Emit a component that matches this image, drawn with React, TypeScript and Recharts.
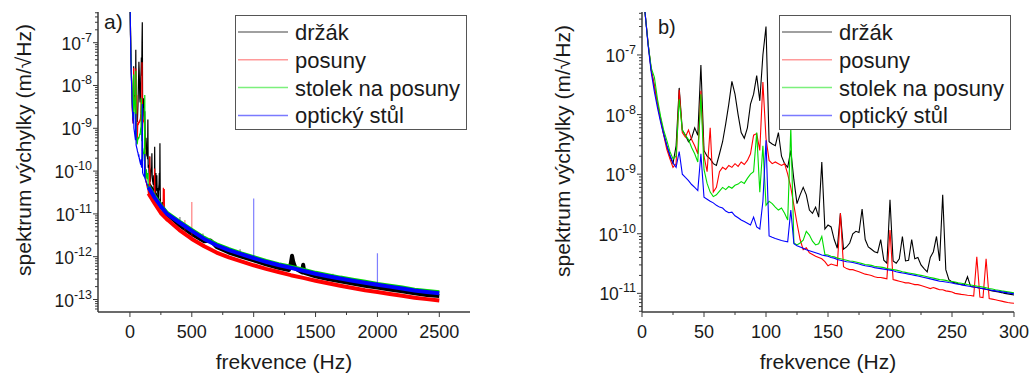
import { LineChart, Line, XAxis, YAxis } from 'recharts';

const FONT = '"Liberation Sans", Arial, sans-serif';
const AXIS = '#3a3a3a';
const TEXT = '#1a1a1a';

const names = ['držák', 'posuny', 'stolek na posuny', 'optický stůl'];
const colors = ['#000000', '#ff0000', '#00dc00', '#0000ff'];
const legendColors = ['#808080', '#ff9a9a', '#7cf07c', '#7a7aff'];

// panel b) 0–300 Hz, step 2.5 Hz (also the low end of panel a)
const fB = Array.from({ length: 121 }, (_, i) => i * 2.5);

const drzakB = [
  2e-6, 5e-7, 1.5e-7, 5.5e-8, 3e-8, 1.5e-8, 8.5e-9, 4.8e-9, 3e-9, 2e-9,
  1.5e-9, 3e-9, 2.8e-8, 5.5e-9, 4.5e-9, 3.5e-9, 4e-9, 6e-9, 4.5e-9, 6.8e-8,
  2.5e-9, 2e-9, 1.8e-9, 1.5e-9, 1.4e-9, 2.2e-9, 3.5e-9, 7e-9, 1.5e-8, 3.6e-8,
  2.2e-8, 1e-8, 5e-9, 4e-9, 6e-9, 1.5e-8, 2.2e-8, 4.5e-8, 1.7e-8, 1e-7,
  3e-7, 3.5e-9, 3.2e-9, 3e-9, 5e-9, 2e-9, 1.5e-9, 1.3e-9, 2.5e-9, 8e-10,
  3.2e-10, 4.5e-10, 6e-10, 4.5e-10, 2.5e-10, 2.2e-10, 2.8e-10, 1.9e-10, 1.6e-9, 1.2e-10,
  1.4e-10, 1.3e-10, 8e-11, 5.7e-11, 2.2e-10, 5.5e-11, 6e-11, 7e-11, 1e-10, 1.1e-10,
  1.05e-10, 2.6e-10, 8e-11, 6e-11, 5.5e-11, 5e-11, 4.8e-11, 8e-11, 3.6e-11, 3.2e-11,
  3.7e-10, 3.5e-11, 3.2e-11, 3.8e-11, 9e-11, 3.5e-11, 3.6e-11, 8e-11, 3.8e-11, 4e-11,
  3e-11, 2.6e-11, 2.3e-11, 4e-11, 5e-11, 9e-11, 3.5e-11, 4.5e-10, 2.5e-11, 1.7e-11,
  1.55e-11, 1.5e-11, 1.45e-11, 1.4e-11, 1.38e-11, 1.9e-11, 1.3e-11, 1.28e-11, 1.25e-11, 1.22e-11,
  1.2e-11, 1.17e-11, 1.13e-11, 1.1e-11, 1.08e-11, 1.05e-11, 1.03e-11, 1e-11, 9.8e-12, 9.6e-12,
  9.4e-12,
];
const posunyB = [
  2e-6, 5e-7, 1.5e-7, 5.5e-8, 3e-8, 1.5e-8, 8e-9, 4.5e-9, 2.6e-9, 1.8e-9,
  1.3e-9, 1.5e-9, 2.6e-8, 5e-9, 4.2e-9, 5.5e-9, 3.8e-9, 3e-9, 2.2e-9, 2.5e-8,
  2e-9, 1.1e-9, 6e-9, 5e-10, 6e-10, 1.1e-9, 1.3e-9, 1.2e-9, 1.4e-9, 1.3e-9,
  1.5e-9, 1.35e-9, 1.6e-9, 1.45e-9, 1.7e-9, 2.2e-9, 4.5e-9, 4.8e-9, 2.5e-9, 3.5e-8,
  4e-9, 1.7e-9, 1.5e-9, 1.6e-9, 1.5e-9, 1.4e-9, 1.5e-9, 1e-9, 6e-10, 3e-10,
  1.5e-10, 8e-11, 5.4e-11, 5.8e-11, 4.8e-11, 4.5e-11, 4.2e-11, 4e-11, 3.8e-11, 3.4e-11,
  2.9e-11, 3.1e-11, 3e-11, 2.9e-11, 2.2e-10, 2.8e-11, 2.6e-11, 2.5e-11, 2.5e-11, 2.4e-11,
  2.3e-11, 2.2e-11, 2.1e-11, 2.05e-11, 2e-11, 1.9e-11, 1.85e-11, 1.85e-11, 1.8e-11, 1.75e-11,
  1.15e-10, 1.7e-11, 1.65e-11, 1.6e-11, 1.55e-11, 1.5e-11, 1.5e-11, 1.45e-11, 1.4e-11, 1.4e-11,
  1.35e-11, 1.3e-11, 1.25e-11, 1.2e-11, 1.25e-11, 1.2e-11, 1.15e-11, 1.15e-11, 1.1e-11, 1.08e-11,
  1.05e-11, 1e-11, 9.8e-12, 9.6e-12, 9.5e-12, 9.3e-12, 9.2e-12, 9e-12, 4.1e-11, 8.7e-12,
  8.5e-12, 3.8e-11, 8.2e-12, 8e-12, 7.8e-12, 7.6e-12, 7.4e-12, 7.2e-12, 7e-12, 6.9e-12,
  6.8e-12,
];
const stolekB = [
  2e-6, 5e-7, 1.5e-7, 6e-8, 4.2e-8, 1.8e-8, 9.3e-9, 5.5e-9, 3.7e-9, 2.4e-9,
  1.8e-9, 2e-9, 1.8e-8, 5.5e-9, 4.5e-9, 3.8e-9, 2.8e-9, 2.2e-9, 1.6e-9, 2.2e-8,
  1.2e-9, 7e-10, 5e-10, 4.2e-10, 4.5e-10, 5.2e-10, 6e-10, 5.5e-10, 6.2e-10, 5.8e-10,
  6.5e-10, 6.8e-10, 7.5e-10, 7e-10, 8.5e-10, 1e-9, 1.1e-9, 5e-9, 5e-10, 3e-9,
  3e-10, 3.5e-10, 3.2e-10, 2.8e-10, 2.5e-10, 2.7e-10, 2.2e-10, 1.7e-10, 6e-9, 7e-11,
  6.5e-11, 7e-11, 7.8e-11, 1.1e-10, 9.5e-11, 7.5e-11, 6.5e-11, 6.8e-11, 9e-11, 4.5e-11,
  4.4e-11, 4.2e-11, 4.1e-11, 3.9e-11, 3.8e-11, 3.7e-11, 3.6e-11, 3.5e-11, 3.45e-11, 3.35e-11,
  3.25e-11, 3.15e-11, 3.05e-11, 3e-11, 2.95e-11, 2.85e-11, 2.8e-11, 2.75e-11, 2.7e-11, 2.6e-11,
  2.55e-11, 2.5e-11, 2.45e-11, 2.4e-11, 2.3e-11, 2.25e-11, 2.2e-11, 2.15e-11, 2.1e-11, 2.05e-11,
  2e-11, 1.95e-11, 1.9e-11, 1.85e-11, 1.8e-11, 1.75e-11, 1.7e-11, 1.68e-11, 1.65e-11, 1.6e-11,
  1.58e-11, 1.55e-11, 1.5e-11, 1.48e-11, 1.45e-11, 1.4e-11, 1.38e-11, 1.35e-11, 1.32e-11, 1.3e-11,
  1.27e-11, 1.24e-11, 1.2e-11, 1.18e-11, 1.15e-11, 1.13e-11, 1.1e-11, 1.08e-11, 1.06e-11, 1.04e-11,
  1.02e-11,
];
const optickyB = [
  2e-6, 5e-7, 1.4e-7, 5e-8, 2.4e-8, 1.3e-8, 7.5e-9, 4.6e-9, 3e-9, 2.1e-9,
  1.55e-9, 1.3e-9, 2.4e-9, 1e-9, 8.8e-10, 7.8e-10, 6.7e-10, 6e-10, 5.3e-10, 2.2e-9,
  4.1e-10, 3.8e-10, 3.5e-10, 3.3e-10, 3e-10, 2.8e-10, 2.7e-10, 2.4e-10, 2.25e-10, 2.3e-10,
  2e-10, 1.85e-10, 1.7e-10, 1.6e-10, 1.5e-10, 1.4e-10, 1.9e-10, 1.3e-10, 1.2e-10, 3.5e-10,
  3.7e-9, 9.2e-11, 8.7e-11, 8.3e-11, 8e-11, 7.7e-11, 7.5e-11, 7.3e-11, 2.5e-10, 6.8e-11,
  6.3e-11, 6e-11, 5.7e-11, 5.4e-11, 5.2e-11, 5e-11, 4.8e-11, 4.6e-11, 4.4e-11, 4.3e-11,
  4.2e-11, 4e-11, 3.9e-11, 3.7e-11, 3.6e-11, 3.5e-11, 3.4e-11, 3.35e-11, 3.3e-11, 3.2e-11,
  3.1e-11, 3e-11, 2.9e-11, 2.85e-11, 2.8e-11, 2.7e-11, 2.65e-11, 2.6e-11, 2.55e-11, 2.5e-11,
  2.45e-11, 2.4e-11, 2.3e-11, 2.25e-11, 2.2e-11, 2.15e-11, 2.1e-11, 2.05e-11, 2e-11, 1.95e-11,
  1.9e-11, 1.85e-11, 1.8e-11, 1.75e-11, 1.7e-11, 1.65e-11, 1.6e-11, 1.58e-11, 1.55e-11, 1.52e-11,
  1.5e-11, 1.45e-11, 1.42e-11, 1.4e-11, 1.36e-11, 1.33e-11, 1.3e-11, 1.28e-11, 1.25e-11, 1.23e-11,
  1.2e-11, 1.17e-11, 1.15e-11, 1.12e-11, 1.1e-11, 1.08e-11, 1.06e-11, 1.04e-11, 1.02e-11, 1e-11,
  9.8e-12,
];

// panel a) noise floor band, 150–2500 Hz
const fHighA = [150, 200, 250, 300, 400, 500, 600, 700, 800, 900, 1000, 1100, 1200, 1300, 1400, 1500, 1600, 1700, 1800, 1900, 2000, 2100, 2200, 2300, 2400, 2500];
const fDrzakA = [150, 200, 250, 300, 400, 500, 600, 650, 700, 800, 900, 1000, 1100, 1200, 1285, 1300, 1310, 1320, 1340, 1390, 1400, 1410, 1500, 1600, 1700, 1800, 1900, 2000, 2100, 2200, 2300, 2400, 2500];
const drzakA = [5e-11, 3e-11, 1.5e-11, 1e-11, 5.5e-12, 3.4e-12, 2.3e-12, 2.4e-12, 1.7e-12, 1.25e-12, 1e-12, 8.2e-13, 6.6e-13, 5.5e-13, 4.9e-13, 7e-13, 1.05e-12, 7.5e-13, 5.2e-13, 4.3e-13, 6.5e-13, 4.2e-13, 3.5e-13, 3e-13, 2.65e-13, 2.35e-13, 2.1e-13, 1.9e-13, 1.7e-13, 1.55e-13, 1.4e-13, 1.28e-13, 1.2e-13];
const posunyA = [3e-11, 1.75e-11, 1.05e-11, 7.5e-12, 4.2e-12, 2.6e-12, 1.75e-12, 1.25e-12, 9.6e-13, 7.8e-13, 6.3e-13, 5.2e-13, 4.4e-13, 3.7e-13, 3.2e-13, 2.75e-13, 2.4e-13, 2.1e-13, 1.85e-13, 1.65e-13, 1.5e-13, 1.35e-13, 1.22e-13, 1.1e-13, 1.02e-13, 9.5e-14];
const stolekA = [4.4e-11, 2.55e-11, 1.58e-11, 1.05e-11, 6.6e-12, 4.2e-12, 2.75e-12, 1.95e-12, 1.5e-12, 1.2e-12, 9.8e-13, 8e-13, 6.7e-13, 5.8e-13, 4.95e-13, 4.2e-13, 3.7e-13, 3.25e-13, 2.9e-13, 2.6e-13, 2.3e-13, 2.1e-13, 1.9e-13, 1.7e-13, 1.58e-13, 1.47e-13];
const optickyA = [4.2e-11, 2.4e-11, 1.5e-11, 1e-11, 6.3e-12, 4e-12, 2.6e-12, 1.85e-12, 1.42e-12, 1.15e-12, 9.3e-13, 7.6e-13, 6.4e-13, 5.5e-13, 4.7e-13, 4e-13, 3.5e-13, 3.1e-13, 2.75e-13, 2.45e-13, 2.2e-13, 2e-13, 1.8e-13, 1.62e-13, 1.5e-13, 1.4e-13];

// narrow peaks in panel a)
const drzakSpikeF = [404, 590, 890, 1640];
const drzakSpikeBase = [5.4e-12, 2.4e-12, 1.05e-12, 2.9e-13];
const drzakSpikeTop = [8.5e-12, 3.5e-12, 1.5e-12, 4e-13];
const posunySpikeF = [444, 500];
const posunySpikeBase = [3.4e-12, 2.6e-12];
const posunySpikeTop = [7.2e-12, 1.9e-11];
const optickySpikeF = [1000, 2000];
const optickySpikeBase = [9.3e-13, 2.2e-13];
const optickySpikeTop = [2.3e-11, 1.2e-12];

const xTicksA = [0, 250, 500, 750, 1000, 1250, 1500, 1750, 2000, 2250, 2500];
const xTicksB = [0, 25, 50, 75, 100, 125, 150, 175, 200, 225, 250, 275, 300];
const decadesA = [-14, -13, -12, -11, -10, -9, -8, -7];
const decadesB = [-12, -11, -10, -9, -8, -7];
const minorMult = [1, 2, 3, 4, 5, 6, 7, 8, 9];

const domA: [number, number] = [10 ** -13.292, 10 ** -6.283];
const domB: [number, number] = [10 ** -11.313, 10 ** -6.279];

const logTicks = (decs: number[], dom: [number, number]) =>
  decs.flatMap((d) => minorMult.map((m) => m * 10 ** d)).filter((t) => t >= dom[0] && t <= dom[1]);

const rows = (f: number[], v: number[]) => f.map((x, i) => ({ f: x, v: v[i] }));
const spikeRows = (f: number[], base: number[], top: number[]) =>
  f.flatMap((x, i) => [{ f: x, v: base[i] }, { f: x, v: top[i] }, { f: x + 0.01, v: null }]);

const lowB = [drzakB, posunyB, stolekB, optickyB].map((v) => rows(fB, v));
const highA = [
  rows(fDrzakA, drzakA),
  rows(fHighA, posunyA),
  rows(fHighA, stolekA),
  rows(fHighA, optickyA),
];
const spikesA = [
  spikeRows(drzakSpikeF, drzakSpikeBase, drzakSpikeTop),
  spikeRows(posunySpikeF, posunySpikeBase, posunySpikeTop),
  [],
  spikeRows(optickySpikeF, optickySpikeBase, optickySpikeTop),
];

const makeYTick = (axisX: number) => (props: any) => {
  const { y, payload } = props;
  const lg = Math.log10(payload.value);
  const exp = Math.round(lg);
  const major = Math.abs(lg - exp) < 1e-6;
  return (
    <g>
      <line x1={axisX - (major ? 5 : 3)} x2={axisX} y1={y} y2={y} stroke={AXIS} strokeWidth={1} />
      {major && (
        <text x={axisX - 6} y={y + 7} textAnchor="end" fontSize={17.5} fill={TEXT} fontFamily={FONT}>
          <tspan>10</tspan>
          <tspan dy={-8} fontSize={12.5}>{'-' + Math.abs(exp)}</tspan>
        </text>
      )}
    </g>
  );
};

const makeXTick = (axisY: number, step: number) => (props: any) => {
  const { x, payload } = props;
  const major = payload.value % step === 0;
  return (
    <g>
      <line x1={x} x2={x} y1={axisY} y2={axisY + (major ? 5 : 3)} stroke={AXIS} strokeWidth={1} />
      {major && (
        <text x={x} y={axisY + 25.5} textAnchor="middle" fontSize={18} fill={TEXT} fontFamily={FONT}>
          {payload.value}
        </text>
      )}
    </g>
  );
};

const frame = { stroke: AXIS, strokeWidth: 1.5 };

function Legend({ x, y, lineW }: { x: number; y: number; lineW: number }) {
  return (
    <g>
      <rect x={x + 0.5} y={y + 0.5} width={231} height={114} fill="#fff" stroke="#555" strokeWidth={1} />
      {names.map((n, i) => (
        <g key={n}>
          <line x1={x + 3} x2={x + 3 + lineW} y1={y + 17 + i * 27.8} y2={y + 17 + i * 27.8} stroke={legendColors[i]} strokeWidth={1.5} />
          <text x={x + lineW + 10} y={y + 25 + i * 27.8} fontSize={22} fill={TEXT} fontFamily={FONT}>{n}</text>
        </g>
      ))}
    </g>
  );
}

export default function App() {
  return (
    <div style={{ position: 'absolute', left: 0, top: 0, width: 1032, height: 374, background: '#fff', overflow: 'hidden' }}>
      <div style={{ position: 'absolute', left: 0, top: 0 }}>
        <LineChart width={480} height={374} margin={{ top: 12, right: 10, bottom: 0, left: 0 }}>
          <XAxis dataKey="f" type="number" domain={[-258, 2748]} allowDataOverflow ticks={xTicksA} interval={0}
            tick={makeXTick(312, 500)} tickLine={false} axisLine={frame} height={62} />
          <XAxis xAxisId="top" orientation="top" type="number" domain={[-258, 2748]} tick={false} tickLine={false} axisLine={frame} height={0} />
          <YAxis type="number" scale="log" domain={domA} allowDataOverflow ticks={logTicks(decadesA, domA)} interval={0}
            tick={makeYTick(98)} tickLine={false} axisLine={frame} width={98} />
          <YAxis yAxisId="right" orientation="right" tick={false} tickLine={false} axisLine={frame} width={0} />
          {names.map((n, i) => [
            <Line key={n + 'hi'} data={highA[i]} dataKey="v" type="linear" stroke={colors[i]} strokeWidth={4}
              strokeLinejoin="round" dot={false} isAnimationActive={false} />,
            <Line key={n + 'lo'} data={lowB[i]} dataKey="v" type="linear" stroke={colors[i]} strokeWidth={1.2}
              dot={false} isAnimationActive={false} />,
            <Line key={n + 'sp'} data={spikesA[i]} dataKey="v" type="linear" stroke={colors[i]} strokeOpacity={0.5}
              strokeWidth={1.2} dot={false} isAnimationActive={false} />,
          ])}
        </LineChart>
      </div>
      <div style={{ position: 'absolute', left: 520, top: 0 }}>
        <LineChart width={512} height={374} margin={{ top: 12, right: 18, bottom: 0, left: 0 }}>
          <XAxis dataKey="f" type="number" domain={[0, 300]} allowDataOverflow ticks={xTicksB} interval={0}
            tick={makeXTick(312, 50)} tickLine={false} axisLine={frame} height={62} />
          <XAxis xAxisId="top" orientation="top" type="number" domain={[0, 300]} tick={false} tickLine={false} axisLine={frame} height={0} />
          <YAxis type="number" scale="log" domain={domB} allowDataOverflow ticks={logTicks(decadesB, domB)} interval={0}
            tick={makeYTick(122)} tickLine={false} axisLine={frame} width={122} />
          <YAxis yAxisId="right" orientation="right" tick={false} tickLine={false} axisLine={frame} width={0} />
          {names.map((n, i) => (
            <Line key={n} data={lowB[i]} dataKey="v" type="linear" stroke={colors[i]} strokeWidth={1.1}
              dot={false} isAnimationActive={false} />
          ))}
        </LineChart>
      </div>
      <svg width={1032} height={374} style={{ position: 'absolute', left: 0, top: 0, pointerEvents: 'none' }}>
        <g fontFamily={FONT} fill={TEXT}>
          <text x={104} y={29} fontSize={21}>a)</text>
          <text x={658} y={34} fontSize={20}>b)</text>
          <text x={284} y={369} fontSize={21} textAnchor="middle">frekvence (Hz)</text>
          <text x={828} y={369} fontSize={21} textAnchor="middle">frekvence (Hz)</text>
          <text transform="translate(31,150) rotate(-90)" fontSize={21} textAnchor="middle">spektrum výchylky (m/√Hz)</text>
          <text transform="translate(570,151) rotate(-90)" fontSize={21} textAnchor="middle">spektrum výchylky (m/√Hz)</text>
        </g>
        <Legend x={235} y={15} lineW={50} />
        <Legend x={779} y={15} lineW={50} />
      </svg>
    </div>
  );
}
